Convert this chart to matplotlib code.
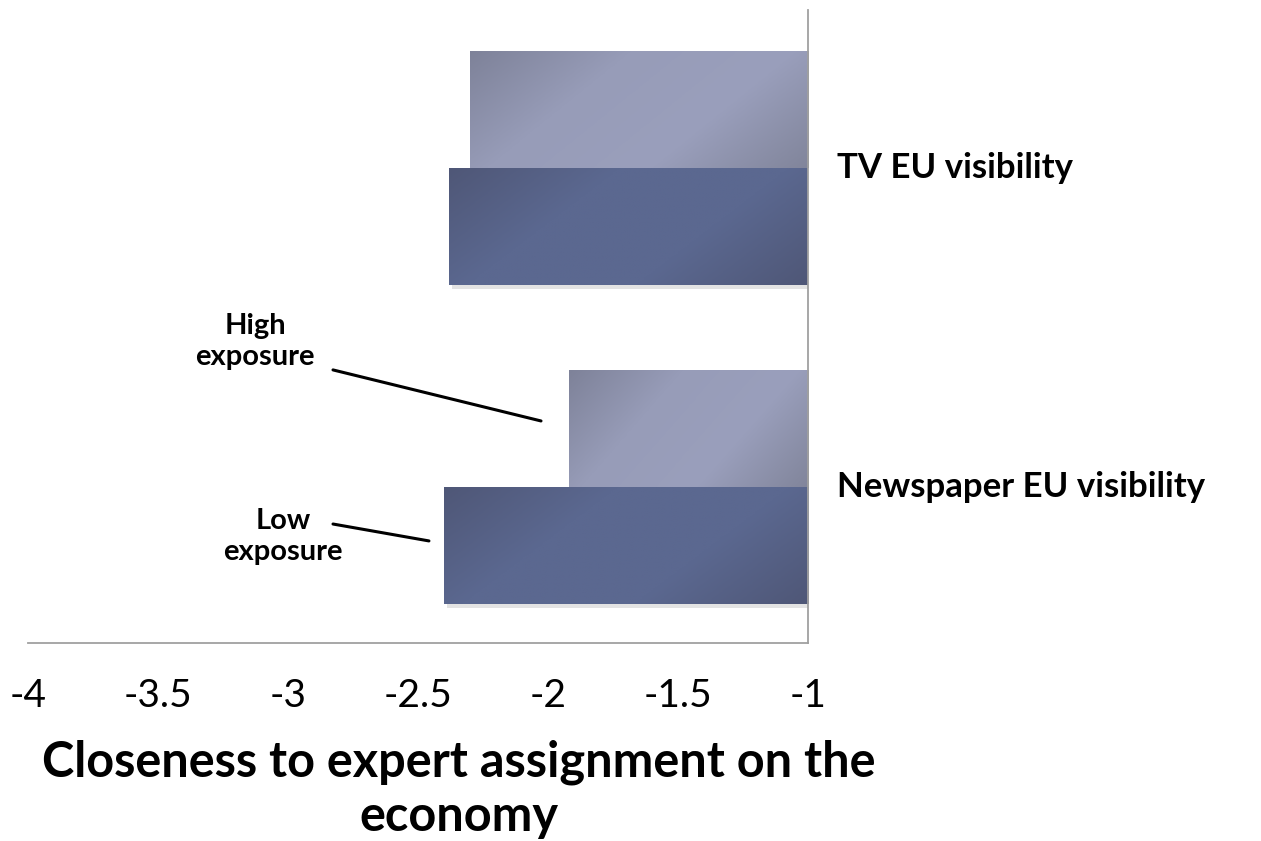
import numpy as np
import matplotlib
matplotlib.use("Agg")
import matplotlib.pyplot as plt
import matplotlib.patheffects as pe
from matplotlib.colors import LinearSegmentedColormap

plt.rcParams['font.family'] = ['Lato', 'DejaVu Sans']

categories = ["Newspaper EU visibility", "TV EU visibility"]
high_exposure = [-1.92, -2.30]
low_exposure = [-2.40, -2.38]
xticks = [-4, -3.5, -3, -2.5, -2, -1.5, -1]
xtick_labels = ["-4", "-3.5", "-3", "-2.5", "-2", "-1.5", "-1"]
base = -1

fig = plt.figure(figsize=(12.61, 8.41), dpi=100)
ax = fig.add_axes([0.0222, 0.2354, 0.6186, 0.7527])

y = np.arange(len(categories))
h = 0.367
bars_high = ax.barh(y + h / 2, np.array(high_exposure) - base, left=base, height=h,
                    color="#9499b5", linewidth=0, zorder=2)
bars_low = ax.barh(y - h / 2, np.array(low_exposure) - base, left=base, height=h,
                   color="#56628a", linewidth=0, zorder=3)

# diagonal gradient like the original office-style fill
cm_light = LinearSegmentedColormap.from_list("l", ["#7e8299", "#979cb8", "#9a9fbc", "#81859b"])
cm_dark = LinearSegmentedColormap.from_list("d", ["#4f5777", "#5b6890", "#5b6890", "#4f5777"])
gu, gv = np.meshgrid(np.linspace(0, 1, 200), np.linspace(0, 1, 100))
grad = np.clip(0.7 * gu + 0.3 * gv, 0, 1)

for bars, cmap, z in [(bars_high, cm_light, 2.5), (bars_low, cm_dark, 3.5)]:
    for b in bars:
        b.set_path_effects([pe.SimplePatchShadow(offset=(2, -3), shadow_rgbFace="#777777", alpha=0.2),
                            pe.Normal()])
        x0, y0, w, hh = b.get_x(), b.get_y(), b.get_width(), b.get_height()
        im = ax.imshow(grad, cmap=cmap, aspect="auto", origin="upper",
                       extent=(x0 + w, x0, y0, y0 + hh), zorder=z, interpolation="bilinear")
        im.set_clip_path(b)

ax.set_xlim(-4, -1)
ax.set_ylim(-0.489, 1.495)

for s in ["left", "top"]:
    ax.spines[s].set_visible(False)
for s in ["bottom", "right"]:
    ax.spines[s].set_color("#a0a0a0")
    ax.spines[s].set_linewidth(1.3)
    ax.spines[s].set_zorder(5)

ax.set_xticks(xticks)
ax.set_xticklabels(xtick_labels, fontsize=28)
ax.tick_params(axis="x", length=0, pad=25)
ax.set_yticks([])

for yi, name in zip(y, categories):
    ax.text(-0.89, yi, name, fontsize=25, fontweight="bold", va="center", ha="left",
            clip_on=False)

ax.set_xlabel("Closeness to expert assignment on the\neconomy", fontsize=35,
              fontweight="bold", linespacing=1.25)
ax.xaxis.set_label_coords(0.552, -0.152)
ax.xaxis.label.set_va("top")

line_kw = dict(arrowstyle="-", color="black", lw=2.2, shrinkA=0, shrinkB=0)
ax.annotate("", xy=(-2.027, 0.207), xytext=(-2.827, 0.367), arrowprops=line_kw)
ax.annotate("", xy=(-2.458, -0.169), xytext=(-2.827, -0.116), arrowprops=line_kw)
ax.text(-3.127, 0.455, "High\nexposure", fontsize=21, fontweight="bold",
        ha="center", va="center", linespacing=1.25)
ax.text(-3.019, -0.154, "Low\nexposure", fontsize=21, fontweight="bold",
        ha="center", va="center", linespacing=1.25)

fig.savefig("out.png", dpi=100, facecolor="white")
